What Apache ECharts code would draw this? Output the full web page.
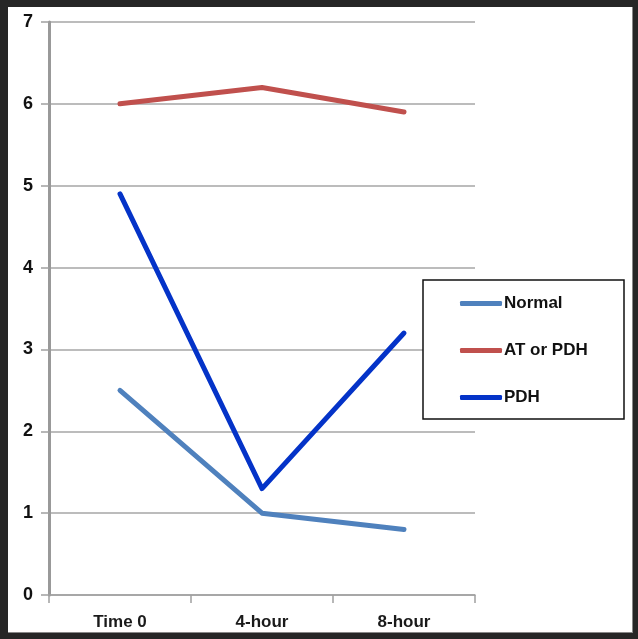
<!DOCTYPE html>
<html>
<head>
<meta charset="utf-8">
<script src="https://cdn.jsdelivr.net/npm/echarts@6/dist/echarts.min.js"></script>
<style>
html,body{margin:0;padding:0;background:#262626;width:638px;height:639px;overflow:hidden;}
#bg{position:absolute;left:8px;top:7px;width:624px;height:625px;background:#fff;border-right:1px solid #888;border-bottom:1px solid #888;}
#chart{position:absolute;left:0;top:0;width:638px;height:639px;}
</style>
</head>
<body>
<div id="bg"></div>
<div id="chart"></div>
<script>
const categories = ['Time 0', '4-hour', '8-hour'];
const normalValues = [2.5, 1.0, 0.8];
const atOrPdhValues = [6.0, 6.2, 5.9];
const pdhValues = [4.9, 1.3, 3.2];
const yTicks = [0, 1, 2, 3, 4, 5, 6, 7];

const seriesNames = ['Normal', 'AT or PDH', 'PDH'];
const seriesData = [normalValues, atOrPdhValues, pdhValues];
const colors = ['#4F81BD', '#C0504D', '#0433C8'];

const chart = echarts.init(document.getElementById('chart'), null, {renderer: 'canvas'});
const labelFont = '"Liberation Sans Narrow", "Liberation Sans", Arial, sans-serif';
chart.setOption({
  backgroundColor: 'transparent',
  animation: false,
  color: colors,
  grid: {left: 49, right: 163, top: 22, bottom: 44, containLabel: false},
  xAxis: {
    type: 'category',
    data: categories,
    boundaryGap: true,
    axisLine: {show: true, lineStyle: {color: '#A0A0A0', width: 1.5}},
    axisTick: {show: true, length: 8, alignWithLabel: false, lineStyle: {color: '#A0A0A0', width: 1.5}},
    axisLabel: {fontFamily: labelFont, fontWeight: 'bold', fontSize: 17, color: '#1a1a1a', margin: 19},
    splitLine: {show: false}
  },
  yAxis: {
    type: 'value',
    min: yTicks[0],
    max: yTicks[yTicks.length - 1],
    interval: 1,
    axisLine: {show: true, lineStyle: {color: '#999', width: 3}},
    axisTick: {show: true, length: 8, lineStyle: {color: '#A0A0A0', width: 1.5}},
    axisLabel: {fontFamily: 'Arial, "Liberation Sans", sans-serif', fontWeight: 'bold', fontSize: 18, color: '#111', margin: 16},
    splitLine: {show: true, lineStyle: {color: '#A6A6A6', width: 1.5}}
  },
  legend: {
    orient: 'vertical',
    left: 455,
    top: 290,
    z: 20,
    itemWidth: 42,
    itemHeight: 5,
    itemGap: 30,
    icon: 'roundRect',
    data: seriesNames,
    textStyle: {fontFamily: labelFont, fontWeight: 'bold', fontSize: 17, color: '#111', padding: [0, 0, 0, -3], lineHeight: 16}
  },
  graphic: [{
    type: 'rect',
    z: 15,
    shape: {x: 423, y: 280, width: 201, height: 139},
    style: {fill: '#fff', stroke: '#111', lineWidth: 1.5}
  }],
  series: seriesNames.map((name, i) => ({
    name: name,
    type: 'line',
    data: seriesData[i],
    symbol: 'none',
    smooth: false,
    lineStyle: {width: 5, color: colors[i], cap: 'round', join: 'round'},
    itemStyle: {color: colors[i]}
  }))
});
</script>
</body>
</html>
